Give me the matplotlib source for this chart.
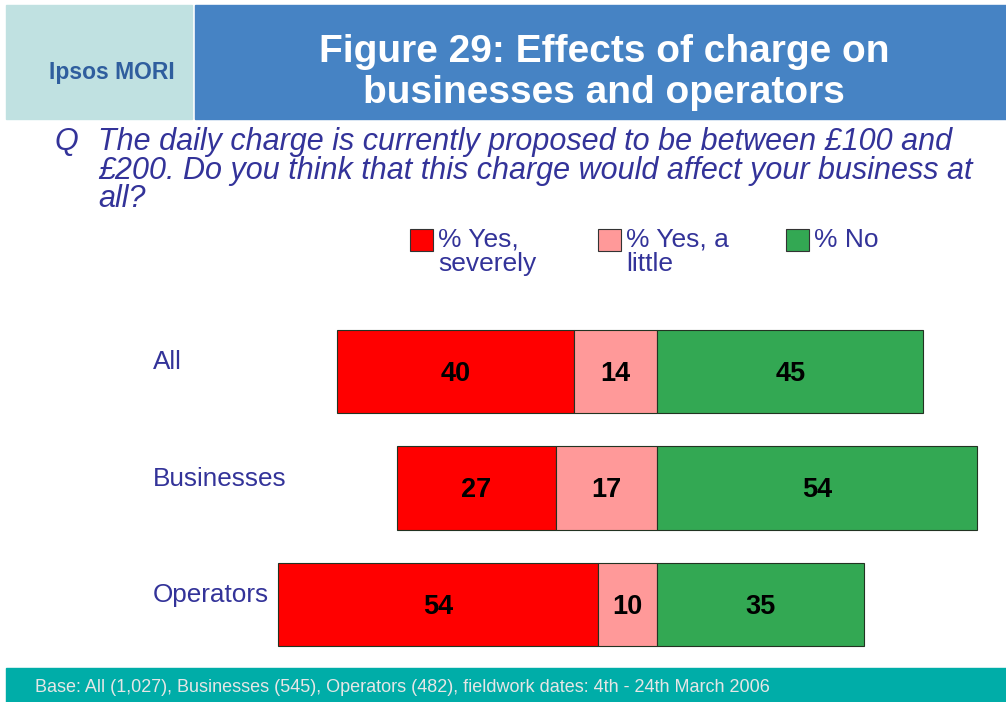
import matplotlib.pyplot as plt
from matplotlib.patches import Rectangle
from matplotlib.transforms import blended_transform_factory

# data
categories = ['All', 'Businesses', 'Operators']
yes_severely = [40, 27, 54]
yes_little = [14, 17, 10]
no = [45, 54, 35]
series_names = ['% Yes,\nseverely', '% Yes, a\nlittle', '% No']
colors = ['#FF0000', '#FF9999', '#33A853']

W, H = 1006, 702
plt.rcParams['font.family'] = ['Liberation Sans', 'DejaVu Sans']
fig = plt.figure(figsize=(W / 100, H / 100), dpi=100)


def fx(px):
    return px / W


def fy(py):
    return 1 - py / H


# header boxes
fig.patches.append(Rectangle((fx(6), fy(119)), fx(186), 114 / H, transform=fig.transFigure,
                             color='#C0E1E1', zorder=0))
fig.patches.append(Rectangle((fx(195), fy(119)), fx(811), 114 / H, transform=fig.transFigure,
                             color='#4683C4', zorder=0))
fig.text(fx(112), fy(72), 'Ipsos MORI', color='#2F5E9E', fontsize=16.5, fontweight='bold',
         ha='center', va='center')
fig.text(fx(604), fy(52), 'Figure 29: Effects of charge on', color='white', fontsize=28,
         fontweight='bold', ha='center', va='center')
fig.text(fx(604), fy(93), 'businesses and operators', color='white', fontsize=28,
         fontweight='bold', ha='center', va='center')

# question
qcol = '#333399'
fig.text(fx(55), fy(142), 'Q', color=qcol, fontsize=22, style='italic', ha='left', va='center')
qlines = ['The daily charge is currently proposed to be between £100 and',
          '£200. Do you think that this charge would affect your business at',
          'all?']
for i, line in enumerate(qlines):
    fig.text(fx(98), fy(142 + 28.5 * i), line, color=qcol, fontsize=22, style='italic',
             ha='left', va='center')

# footer
fig.patches.append(Rectangle((fx(6), 0), fx(1000), 34 / H, transform=fig.transFigure,
                             color='#00ADA8', zorder=0))
fig.text(fx(35), fy(688), 'Base: All (1,027), Businesses (545), Operators (482), fieldwork dates: 4th - 24th March 2006',
         color='#E6E6E6', fontsize=13, ha='left', va='center')

# bars
scale = 5.92
ax_l, ax_r = 240, 1000
ax_t, ax_b = 313.25, 662.75
ax = fig.add_axes([fx(ax_l), fy(ax_b), (ax_r - ax_l) / W, (ax_b - ax_t) / H])
ax.set_xlim((ax_l - 657) / scale, (ax_r - 657) / scale)
ax.set_ylim(2.5, -0.5)
ax.axis('off')

y = range(len(categories))
left_red = [-(a + b) for a, b in zip(yes_severely, yes_little)]
left_pink = [-b for b in yes_little]
ax.barh(y, yes_severely, left=left_red, height=0.72, color=colors[0], edgecolor='#223322', lw=0.8)
ax.barh(y, yes_little, left=left_pink, height=0.72, color=colors[1], edgecolor='#223322', lw=0.8)
ax.barh(y, no, left=0, height=0.72, color=colors[2], edgecolor='#223322', lw=0.8)

for i in y:
    ax.text(left_red[i] + yes_severely[i] / 2, i + 0.02, str(yes_severely[i]), ha='center', va='center',
            fontsize=19.5, fontweight='bold')
    ax.text(left_pink[i] + yes_little[i] / 2, i + 0.02, str(yes_little[i]), ha='center', va='center',
            fontsize=19.5, fontweight='bold')
    ax.text(no[i] / 2, i + 0.02, str(no[i]), ha='center', va='center', fontsize=19.5, fontweight='bold')

trans = blended_transform_factory(fig.transFigure, ax.transData)
for i, cat in enumerate(categories):
    ax.text(fx(153), i - 0.08, cat, transform=trans, color=qcol, fontsize=18.8, ha='left', va='center')

# legend
leg_x = [410, 598, 786]
for x0, name, c in zip(leg_x, series_names, colors):
    fig.patches.append(Rectangle((fx(x0), fy(251)), 23 / W, 22 / H, transform=fig.transFigure,
                                 facecolor=c, edgecolor='#333333', lw=0.8))
    lines = name.split('\n')
    for j, ln in enumerate(lines):
        fig.text(fx(x0 + 28), fy(240 + 24 * j), ln, color=qcol, fontsize=19, ha='left', va='center')

fig.savefig('out.png', dpi=100)
